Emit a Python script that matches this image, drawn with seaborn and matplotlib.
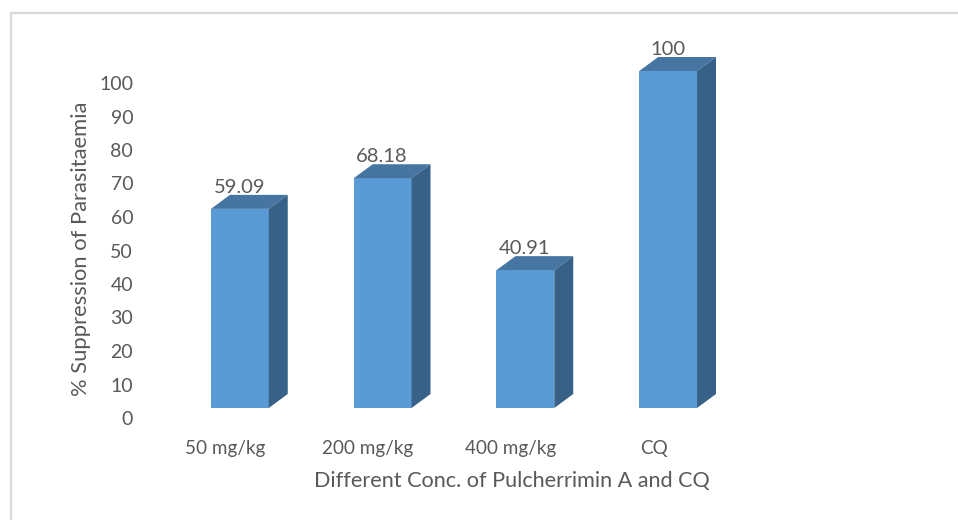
#Add libraries
import matplotlib
matplotlib.use("Agg")
import matplotlib.pyplot as plt
import seaborn as sns
import pandas as pd
from matplotlib.lines import Line2D
from matplotlib.patches import Polygon

#Chart values
doses = ["50 mg/kg", "200 mg/kg", "400 mg/kg", "CQ"]
suppression = [59.09, 68.18, 40.91, 100]
value_labels = ["59.09", "68.18", "40.91", "100"]
y_ticks = list(range(0, 101, 10))

#Colors
front_color = "#5B9BD5"
top_color = "#4675A2"
side_color = "#376186"
text_color = "#595959"
border_color = "#D9D9D9"

#Figure size in pixels
W, H = 958, 520
sns.set_theme(style="white")
plt.rcParams["font.family"] = ["Lato", "DejaVu Sans"]


#Axes rectangle from pixel edges (y measured from the top of the image)
def rect(left, right, top, bottom):
    return [left / W, 1 - bottom / H, (right - left) / W, (bottom - top) / H]


fig = plt.figure(figsize=(W / 100, H / 100), dpi=100, facecolor="white")

#Axes holding the bars
ax = fig.add_axes(rect(168.5, 739.5, 71, 408))
df = pd.DataFrame({"dose": doses, "suppression": suppression})
sns.barplot(data=df, x="dose", y="suppression", color=front_color, saturation=1, width=0.405,
            linewidth=0, ax=ax)
ax.set_ylim(0, 100)
ax.set_xlim(-0.5, 3.5)
ax.axis("off")

#Extruded top and side of every bar (depth in data units)
dx = 19 / 143
dy = 14 / 3.37
for bar, label in zip(ax.patches, value_labels):
    x0 = bar.get_x()
    x1 = x0 + bar.get_width()
    h = bar.get_height()
    ax.add_patch(Polygon([(x0, h), (x1, h), (x1 + dx, h + dy), (x0 + dx, h + dy)],
                         facecolor=top_color, edgecolor="none", clip_on=False))
    ax.add_patch(Polygon([(x1, 0), (x1 + dx, dy), (x1 + dx, h + dy), (x1, h)],
                         facecolor=side_color, edgecolor="none", clip_on=False))
    ax.annotate(label, (x0 + bar.get_width() / 2, h), xytext=(-0.5, 11.5), textcoords="offset points",
                ha="center", va="baseline", fontsize=14.5, color=text_color, annotation_clip=False)

#Second axes for the tick labels, they sit lower and further left than the bars
lab = fig.add_axes(rect(154, 725, 83, 418), facecolor="none")
lab.set_xlim(-0.5, 3.5)
lab.set_ylim(0, 100)
lab.set_xticks(range(len(doses)))
lab.set_xticklabels(doses)
lab.set_yticks(y_ticks)
lab.tick_params(axis="y", length=0, pad=15, labelsize=14, labelcolor=text_color)
lab.tick_params(axis="x", length=0, pad=15.5, labelsize=13.6, labelcolor=text_color)
for spine in lab.spines.values():
    spine.set_visible(False)

fig.text(81 / W, 1 - 249 / H, "% Suppression of Parasitaemia", rotation=90, ha="center", va="center",
         fontsize=15.8, color=text_color)
fig.text(511.5 / W, 1 - 481 / H, "Different Conc. of Pulcherrimin A and CQ", ha="center", va="center",
         fontsize=15.6, color=text_color)

#Chart frame, only the top and left edges show
fig.add_artist(Line2D([10.5 / W, 10.5 / W, 1], [0, 1 - 12.5 / H, 1 - 12.5 / H],
                      color=border_color, lw=1.6, transform=fig.transFigure))

fig.savefig("out.png", dpi=100)
plt.close(fig)
